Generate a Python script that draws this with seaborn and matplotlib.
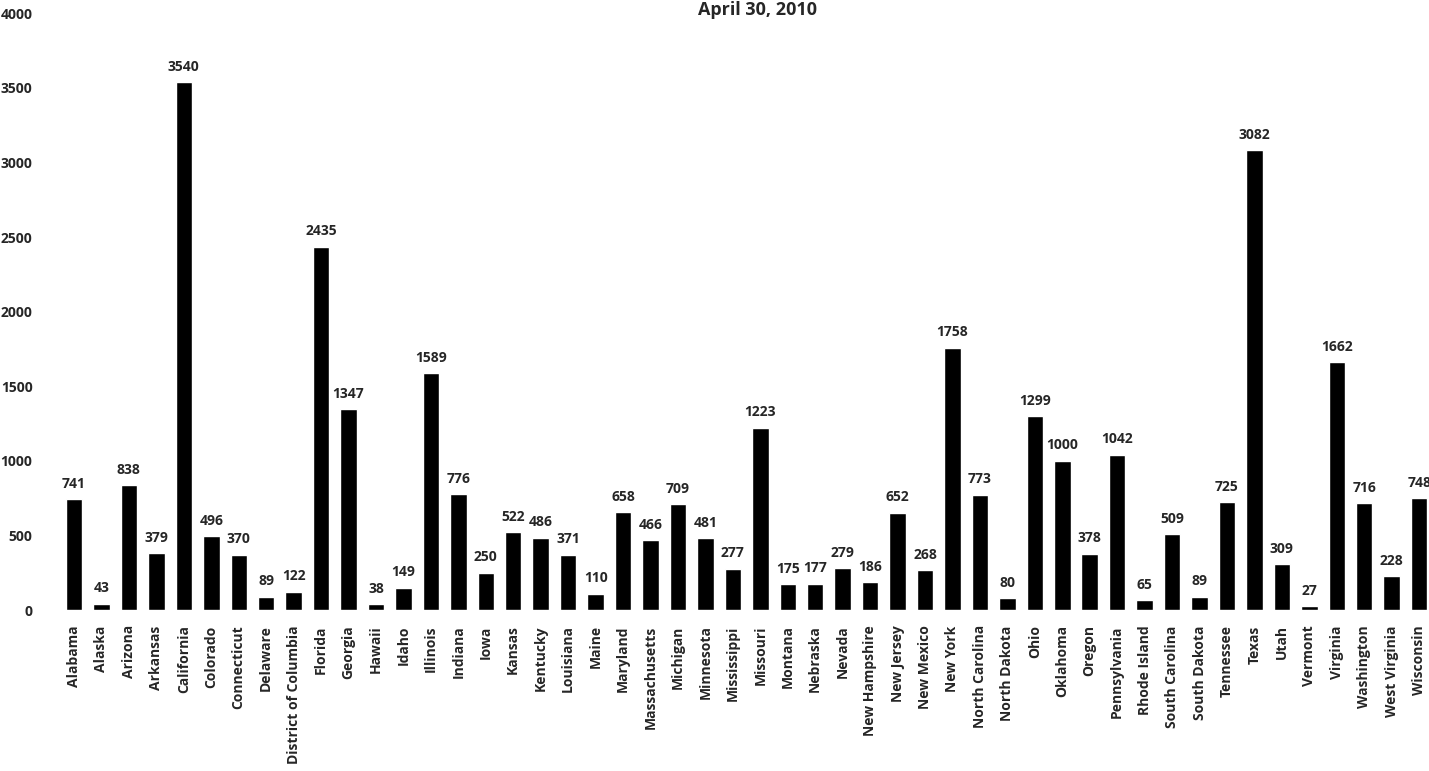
import pandas as pd
import numpy as np
import matplotlib
matplotlib.use('Agg')
import matplotlib.pyplot as plt
import seaborn as sns

states = ['Alabama', 'Alaska', 'Arizona', 'Arkansas', 'California', 'Colorado',
          'Connecticut', 'Delaware', 'District of Columbia', 'Florida', 'Georgia',
          'Hawaii', 'Idaho', 'Illinois', 'Indiana', 'Iowa', 'Kansas', 'Kentucky',
          'Louisiana', 'Maine', 'Maryland', 'Massachusetts', 'Michigan', 'Minnesota',
          'Mississippi', 'Missouri', 'Montana', 'Nebraska', 'Nevada', 'New Hampshire',
          'New Jersey', 'New Mexico', 'New York', 'North Carolina', 'North Dakota',
          'Ohio', 'Oklahoma', 'Oregon', 'Pennsylvania', 'Rhode Island',
          'South Carolina', 'South Dakota', 'Tennessee', 'Texas', 'Utah', 'Vermont',
          'Virginia', 'Washington', 'West Virginia', 'Wisconsin']
counts = [741, 43, 838, 379, 3540, 496, 370, 89, 122, 2435, 1347, 38, 149, 1589,
          776, 250, 522, 486, 371, 110, 658, 466, 709, 481, 277, 1223, 175, 177,
          279, 186, 652, 268, 1758, 773, 80, 1299, 1000, 378, 1042, 65, 509, 89,
          725, 3082, 309, 27, 1662, 716, 228, 748]
y_ticks = [0, 500, 1000, 1500, 2000, 2500, 3000, 3500, 4000]
title = 'April 30, 2010'

df = pd.DataFrame({'State': states, 'Count': counts})

sns.set_style('white')
plt.rcParams['font.family'] = ['Open Sans', 'DejaVu Sans']
plt.rcParams['font.weight'] = 'bold'

fig = plt.figure(figsize=(14.29, 7.71), dpi=100)
ax = fig.add_axes([0.0422, 0.2088, 0.9605, 0.774])

sns.barplot(x='State', y='Count', data=df, color='black', width=0.6,
            saturation=1, ax=ax)
ax.bar_label(ax.containers[0], fmt='%d', padding=6, fontsize=10,
             fontweight='bold', clip_on=False)

ax.set_xlim(-0.5, len(states) - 0.5)
ax.set_ylim(0, 4000)
ax.set_yticks(y_ticks)
ax.set_yticklabels([str(t) for t in y_ticks], fontsize=10, fontweight='bold')
ax.set_xticks(range(len(states)))
ax.set_xticklabels(states, rotation=90, fontsize=10, fontweight='bold')
ax.tick_params(axis='y', length=0, pad=20)
ax.tick_params(axis='x', length=0, pad=11)
ax.set_xlabel('')
ax.set_ylabel('')
for s in ax.spines.values():
    s.set_visible(False)

# the title sits at the very top edge, as in the original
fig.text(757 / 1429, 1 - 1 / 771, title, ha='center', va='top',
         fontsize=13, fontweight='bold')

fig.savefig('out.png', dpi=100)
